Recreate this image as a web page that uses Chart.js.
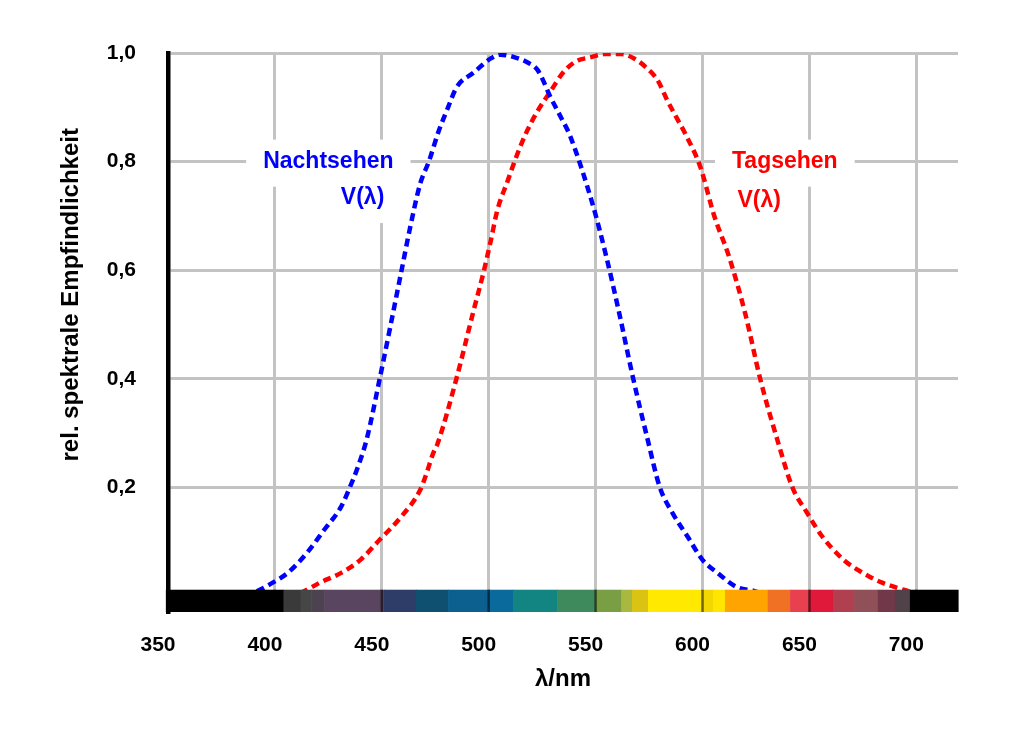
<!DOCTYPE html>
<html><head><meta charset="utf-8">
<script src="https://cdn.jsdelivr.net/npm/chart.js@4/dist/chart.umd.min.js"></script>
<style>html,body{margin:0;padding:0;background:#fff;}#wrap{width:1013px;height:737px;}</style>
</head><body><div id="wrap"><canvas id="c" width="1013" height="737"></canvas></div>
<script>
// ---- data ----
const xTicks = [350, 400, 450, 500, 550, 600, 650, 700];
const yTicks = [0.2, 0.4, 0.6, 0.8, 1.0];

// Nachtsehen V'(λ) (blue)
const blueNm = [386, 392, 399, 406, 415, 423, 431, 435, 439, 443, 449, 459, 463, 468, 472, 476.5, 481, 485, 493, 501, 505.5, 511.5, 518, 523, 529, 534, 538, 549, 555, 561, 567.5, 574, 580, 586, 593, 600, 607, 616, 624, 628];
const blueV  = [0.0, 0.01, 0.025, 0.043, 0.08, 0.122, 0.165, 0.2, 0.24, 0.29, 0.40, 0.595, 0.674, 0.76, 0.80, 0.855, 0.90, 0.937, 0.964, 0.99, 0.997, 0.993, 0.983, 0.968, 0.918, 0.88, 0.848, 0.716, 0.625, 0.522, 0.402, 0.294, 0.201, 0.153, 0.11, 0.067, 0.043, 0.017, 0.01, 0.005];

// Tagsehen V(λ) (red)
const redNm = [406, 413, 421, 431, 440, 449, 459, 468, 471, 474, 476, 485, 493, 497.5, 501, 504, 509, 513, 518, 523, 529, 535, 541, 547.5, 554, 562, 568, 574, 579, 583.5, 588, 592, 599, 605.5, 612.5, 620, 627, 635, 642, 649, 656, 666, 675, 684, 694, 700];
const redV  = [0.0, 0.008, 0.025, 0.043, 0.067, 0.104, 0.146, 0.196, 0.227, 0.263, 0.28, 0.402, 0.527, 0.595, 0.655, 0.71, 0.766, 0.81, 0.857, 0.894, 0.93, 0.965, 0.985, 0.992, 0.998, 0.998, 0.99, 0.972, 0.95, 0.913, 0.88, 0.851, 0.79, 0.70, 0.624, 0.52, 0.40, 0.288, 0.201, 0.153, 0.11, 0.067, 0.043, 0.025, 0.012, 0.005];

// spectrum strip (wavelength boundaries and colours)
const spectrumStops = [349, 404, 412, 417, 423, 451, 466, 481, 500, 511.5, 532, 550, 562, 567, 574.5, 600, 605, 610.5, 630.5, 641, 650, 661, 671, 682, 690, 697, 719.5];
const spectrumColors = ['#000000', '#3a3a3a', '#464646', '#4d4250', '#5a4560', '#2e3c68', '#0f4f70', '#0b6090', '#0a6a9c', '#128582', '#3f8a5c', '#7a9e44', '#a9b83f', '#dac313', '#ffe900', '#f2d800', '#ffe500', '#ffa400', '#f07024', '#e8404e', '#e0183a', '#b04050', '#8f5058', '#703848', '#504248', '#000000'];

// annotations
const labelTexts  = ['Nachtsehen', 'V(λ)', 'Tagsehen', 'V(λ)'];
const labelNm     = [425, 441, 638.5, 626.5];
const labelVal    = [0.80, 0.733, 0.80, 0.729];
const labelColors = ['#0000ff', '#0000ff', '#ff0000', '#ff0000'];
const labelBig    = [true, false, true, false];

const xTitle = 'λ/nm';
const yTitle = 'rel. spektrale Empfindlichkeit';

const X_MIN = 350, X_MAX = 719.5, Y_MIN = -0.029, Y_MAX = 1.0;
const BAR_TOP = 0.012, BAR_BOTTOM = -0.029;

// ---- chart ----
const FONT = "'Liberation Sans', Arial, Helvetica, sans-serif";
const toXY = (xs, ys) => xs.map((v, i) => ({x: v, y: ys[i]}));

const decor = {
  id: 'decor',
  beforeDatasetsDraw(chart) {
    const {ctx, scales: {x, y}} = chart;
    ctx.save();
    ctx.fillStyle = '#ffffff';
    labelTexts.forEach((t, i) => {
      ctx.font = `bold 23px ${FONT}`;
      const w = ctx.measureText(t).width;
      const cx = x.getPixelForValue(labelNm[i]);
      const cy = y.getPixelForValue(labelVal[i]);
      const px = labelBig[i] ? 17 : 8;
      ctx.fillRect(cx - w / 2 - px, cy - 22, w + 2 * px, 47);
    });
    ctx.restore();
  },
  afterDatasetsDraw(chart) {
    const {ctx, scales: {x, y}, chartArea} = chart;
    ctx.save();
    // spectrum strip
    const top = y.getPixelForValue(BAR_TOP), bot = y.getPixelForValue(BAR_BOTTOM);
    for (let i = 0; i < spectrumColors.length; i++) {
      const x0 = x.getPixelForValue(spectrumStops[i]);
      const x1 = x.getPixelForValue(spectrumStops[i + 1]);
      ctx.fillStyle = spectrumColors[i];
      ctx.fillRect(x0, top, x1 - x0 + 0.6, bot - top);
    }
    ctx.strokeStyle = 'rgba(0,0,0,0.55)';
    ctx.lineWidth = 2.5;
    xTicks.slice(1).forEach(v => {
      const px = x.getPixelForValue(v);
      ctx.beginPath(); ctx.moveTo(px, top); ctx.lineTo(px, bot); ctx.stroke();
    });
    // labels
    ctx.textAlign = 'center';
    ctx.textBaseline = 'middle';
    labelTexts.forEach((t, i) => {
      ctx.font = `bold 23px ${FONT}`;
      ctx.fillStyle = labelColors[i];
      ctx.fillText(t, x.getPixelForValue(labelNm[i]), y.getPixelForValue(labelVal[i]));
    });
    // y title
    ctx.translate(chartArea.left - 97, y.getPixelForValue(0.555));
    ctx.rotate(-Math.PI / 2);
    ctx.font = `bold 24px ${FONT}`;
    ctx.fillStyle = '#000';
    ctx.fillText(yTitle, 0, 0);
    ctx.restore();
  }
};

new Chart(document.getElementById('c'), {
  type: 'line',
  data: {
    datasets: [
      {label: 'Nachtsehen', data: toXY(blueNm, blueV), borderColor: '#0000ff', borderWidth: 4.5,
       borderDash: [8, 5], pointRadius: 0, cubicInterpolationMode: 'monotone', fill: false},
      {label: 'Tagsehen', data: toXY(redNm, redV), borderColor: '#ff0000', borderWidth: 4.5,
       borderDash: [8, 5], pointRadius: 0, cubicInterpolationMode: 'monotone', fill: false}
    ]
  },
  options: {
    responsive: false,
    animation: false,
    devicePixelRatio: 1,
    layout: {padding: {left: 0, top: 53, right: 55, bottom: 43}},
    plugins: {legend: {display: false}, tooltip: {enabled: false}},
    scales: {
      x: {
        type: 'linear', min: X_MIN, max: X_MAX,
        afterBuildTicks: s => { s.ticks = xTicks.map(v => ({value: v})); },
        afterFit: s => { s.height = 82; },
        grid: {color: '#c3c3c3', lineWidth: 3, drawTicks: false},
        border: {display: false},
        ticks: {color: '#000', font: {family: FONT, size: 21, weight: 'bold'}, padding: 21, labelOffset: -10, maxRotation: 0},
        title: {display: true, text: xTitle, color: '#000', font: {family: FONT, size: 24, weight: 'bold'}, padding: 0}
      },
      y: {
        type: 'linear', min: Y_MIN, max: Y_MAX,
        afterBuildTicks: s => { s.ticks = yTicks.map(v => ({value: v})); },
        afterFit: s => { s.width = 168; },
        grid: {color: '#c3c3c3', lineWidth: 3, drawTicks: false},
        border: {display: true, color: '#000', width: 4.5},
        ticks: {color: '#000', font: {family: FONT, size: 21, weight: 'bold'}, padding: 32,
                callback: v => Number(v).toFixed(1).replace('.', ',')}
      }
    }
  },
  plugins: [decor]
});
</script>
</body></html>
